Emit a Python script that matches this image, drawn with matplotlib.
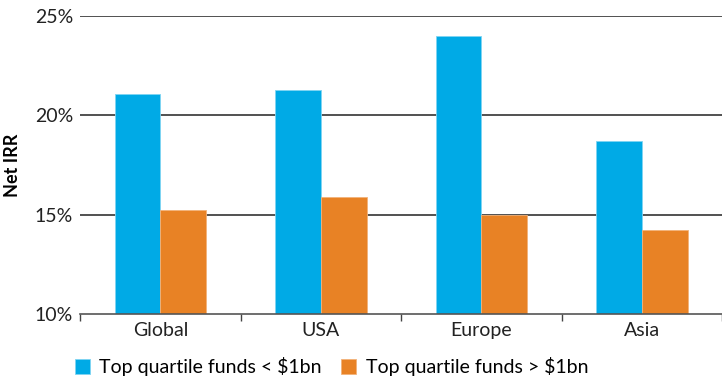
import matplotlib
matplotlib.use("Agg")
import matplotlib.pyplot as plt
import numpy as np

plt.rcParams["font.family"] = ["Lato", "DejaVu Sans"]
plt.rcParams["font.size"] = 13

regions = ["Global", "USA", "Europe", "Asia"]
small_funds = [21.1, 21.3, 24.0, 18.7]
large_funds = [15.25, 15.9, 15.0, 14.25]
yticks = [10, 15, 20, 25]
ytick_labels = ["10%", "15%", "20%", "25%"]

blue = "#00aae6"
orange = "#e88225"

fig = plt.figure(figsize=(7.22, 3.79), dpi=100)
ax = fig.add_axes([0.111, 0.172, 0.889, 0.785])

x = np.arange(len(regions))
w = 0.285
ax.bar(x - w / 2, small_funds, w, bottom=0, color=blue, edgecolor="#7fd4f2",
       linewidth=0.6, label="Top quartile funds < $1bn", zorder=3)
ax.bar(x + w / 2, large_funds, w, bottom=0, color=orange, edgecolor="#f2b27a",
       linewidth=0.6, label="Top quartile funds > $1bn", zorder=3)

ax.set_ylim(10, 25)
ax.set_xlim(-0.5, len(regions) - 0.5)
ax.set_yticks(yticks)
ax.set_yticklabels(ytick_labels, fontsize=14, color="#222222")
ax.tick_params(axis="y", length=0, pad=5)

ax.set_xticks(x)
ax.set_xticklabels(regions, fontsize=14, color="#222222")
ax.tick_params(axis="x", length=0, pad=6)
ax.set_xticks(np.arange(len(regions) + 1) - 0.5, minor=True)
ax.tick_params(axis="x", which="minor", length=5, color="#444444", width=1)

for v in yticks[1:]:
    ax.axhline(v, color="#222222", linewidth=1.1, zorder=1)

for s in ["top", "right", "left"]:
    ax.spines[s].set_visible(False)
ax.spines["bottom"].set_color("#555555")
ax.spines["bottom"].set_linewidth(1.2)
ax.spines["bottom"].set_zorder(4)

ax.set_ylabel("Net IRR", fontsize=13, fontweight="bold", labelpad=10)

ax.legend(loc="upper left", bbox_to_anchor=(-0.02, -0.12), ncol=2, frameon=False,
          fontsize=14, handlelength=0.75, handleheight=0.75, columnspacing=1.0,
          handletextpad=0.5, borderaxespad=0)

fig.savefig("out.png", dpi=100)
